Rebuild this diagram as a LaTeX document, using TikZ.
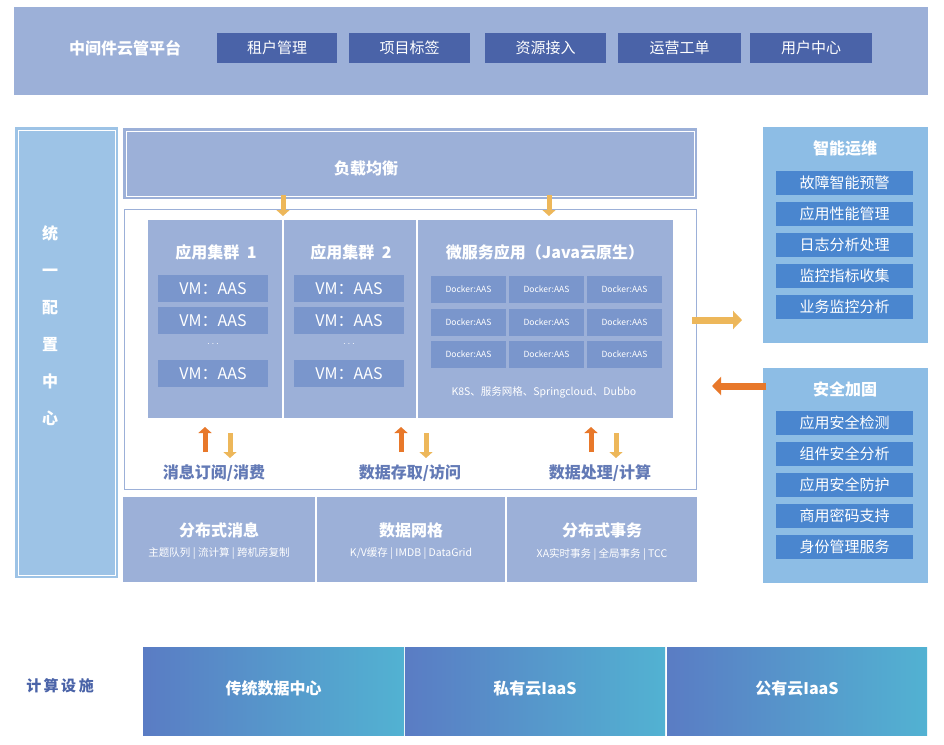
\documentclass[tikz,border=0pt]{standalone}
\usepackage{fontspec}
\setmainfont{Noto Sans CJK SC}
\usetikzlibrary{arrows.meta}
\definecolor{peri}{HTML}{9CB0D8}
\definecolor{dk}{HTML}{4A63A8}
\definecolor{lb}{HTML}{9DC3E6}
\definecolor{rb}{HTML}{8DBDE5}
\definecolor{ib}{HTML}{4A86CF}
\definecolor{vm}{HTML}{7A96CC}
\definecolor{yl}{HTML}{EDB75A}
\definecolor{org}{HTML}{E8782A}
\definecolor{g1}{HTML}{5A7CC4}
\definecolor{g2}{HTML}{52B2D2}
\begin{document}
\begin{tikzpicture}[x=1pt,y=-1pt,
 lab/.style={text=white,font=\bfseries\fontsize{16}{18}\selectfont},
 btn/.style={text=white,font=\fontsize{15}{17}\selectfont},
 item/.style={text=white,font=\fontsize{15}{17}\selectfont},
 vmb/.style={text=white,font=\fontsize{16}{18}\selectfont},
 dkb/.style={text=white,font=\fontsize{8.5}{10}\selectfont},
 blk/.style={line width=6pt,-{Triangle[length=6pt,width=13pt]}}]
\useasboundingbox (0,0) rectangle (944,744);
\fill[white] (0,0) rectangle (944,744);
% top
\fill[peri] (14,7) rectangle (928,95);
\node[lab] (t) at (125,48) {中间件云管平台};
\foreach \a/\b/\s [count=\i] in {217/337/租户管理,349/470/项目标签,485/606/资源接入,618/741/运营工单,750/872/用户中心}{
 \fill[dk] (\a,33) rectangle (\b,63);
 \node[btn] (b\i) at ({(\a+\b)/2},48) {\s};}
% left
\fill[lb] (15,127) rectangle (118,578);
\draw[white,line width=1pt] (18,130) rectangle (115,575);
\node[lab,align=center,font=\bfseries\fontsize{16}{37}\selectfont] (lc) at (50,326) {统\\一\\配\\置\\中\\心};
% load balance
\fill[peri] (123,128) rectangle (697,199);
\draw[white,line width=1pt] (126,131) rectangle (694,196);
\node[lab] (lb) at (366,168) {负载均衡};
\draw[peri,line width=1pt] (124,209) rectangle (696,489);
\fill[peri] (148,220) rectangle (673,418);
\draw[white,line width=1.2pt] (283,220) -- (283,418) (417,220)--(417,418);
\coordinate (a1s) at (283,195); \coordinate (a1e) at (283,216);
\coordinate (a2s) at (549,195); \coordinate (a2e) at (549,216);
\draw[blk,yl,line width=5pt] (a1s) -- (a1e);
\draw[blk,yl,line width=5pt] (a2s) -- (a2e);
\node[lab] (c1) at (216,252) {应用集群\ \ 1};
\node[lab] (c2) at (351,252) {应用集群\ \ 2};
\node[lab] (c3) at (545,252) {微服务应用（Java云原生）};
\foreach \x in {158,294}{
 \foreach \y in {275,307,360}{
  \fill[vm] (\x,\y) rectangle (\x+110,\y+27);
  \node[vmb] at (\x+55,\y+13.5) {VM：AAS};}
 \node[text=white,font=\bfseries] at (\x+55,344) {$\cdots$};}
\foreach \x in {431,509,587}{\foreach \y in {276,309,341}{
 \fill[vm] (\x,\y) rectangle (\x+75,\y+27);
 \node[dkb] at (\x+37.5,\y+13.5) {Docker:AAS};}}
\begin{scope}
\clip (148,380) rectangle (673,405);
\node[anchor=west,text=white,font=\fontsize{10.5}{12}\selectfont] (k8) at (448,392) {K8S、服务网格、Springcloud、Dubbo};
\end{scope}
\foreach \x/\t [count=\i] in {214/{消息订阅/消费},410/{数据存取/访问},600/{数据处理/计算}}{
 \draw[blk,org,line width=5pt] (\x-9,452) -- (\x-9,427);
 \draw[blk,yl,line width=5pt] (\x+16,433) -- (\x+16,458);
 \node[text=dk!70!peri,font=\bfseries\fontsize{16}{18}\selectfont] (m\i) at (\x,473) {\t};}
% bottom middleware
\foreach \a/\b/\t/\s [count=\i] in {123/315/分布式消息/{主题队列 | 流计算 | 跨机房复制},317/505/数据网格/{K/V缓存 | IMDB | DataGrid},507/697/分布式事务/{XA实时事务 | 全局事务 | TCC}}{
 \fill[peri] (\a,497) rectangle (\b,582);
 \node[lab] (d\i) at ({(\a+\b)/2},530) {\t};
 \node[text=white,font=\fontsize{10.5}{12}\selectfont] at ({(\a+\b)/2},554) {\s};}
% right panels
\fill[rb] (763,127) rectangle (928,343);
\node[lab] (r1) at (845,148) {智能运维};
\foreach \y/\t in {171/故障智能预警,202/应用性能管理,233/日志分析处理,264/监控指标收集,295/业务监控分析}{
 \fill[ib] (776,\y) rectangle (913,\y+24);
 \node[item] at (844.5,\y+12) {\t};}
\fill[rb] (763,368) rectangle (928,583);
\node[lab] (r2) at (845,389) {安全加固};
\foreach \y/\t in {411/应用安全检测,442/组件安全分析,473/应用安全防护,504/商用密码支持,535/身份管理服务}{
 \fill[ib] (776,\y) rectangle (913,\y+24);
 \node[item] at (844.5,\y+12) {\t};}
\coordinate (ra) at (692,320); \coordinate (rb2) at (742,320);
\draw[yl,line width=7pt,-{Triangle[length=9pt,width=18pt]}] (ra) -- (rb2);
\coordinate (la) at (766,386); \coordinate (lb2) at (712,386);
\draw[org,line width=7pt,-{Triangle[length=9pt,width=18pt]}] (la) -- (lb2);
% infrastructure
\node[text=dk,font=\bfseries\fontsize{15}{17}\selectfont] (inf) at (60,686) {计\,算\,设\,施};
\foreach \a/\b/\t [count=\i] in {143/404/传统数据中心,405/665/私有云IaaS,667/927/公有云IaaS}{
 \shade[left color=g1,right color=g2] (\a,647) rectangle (\b,735);
 \node[lab,font=\bfseries\fontsize{16}{18}\selectfont] (f\i) at ({(\a+\b)/2},688) {\t};}
\end{tikzpicture}
\end{document}
